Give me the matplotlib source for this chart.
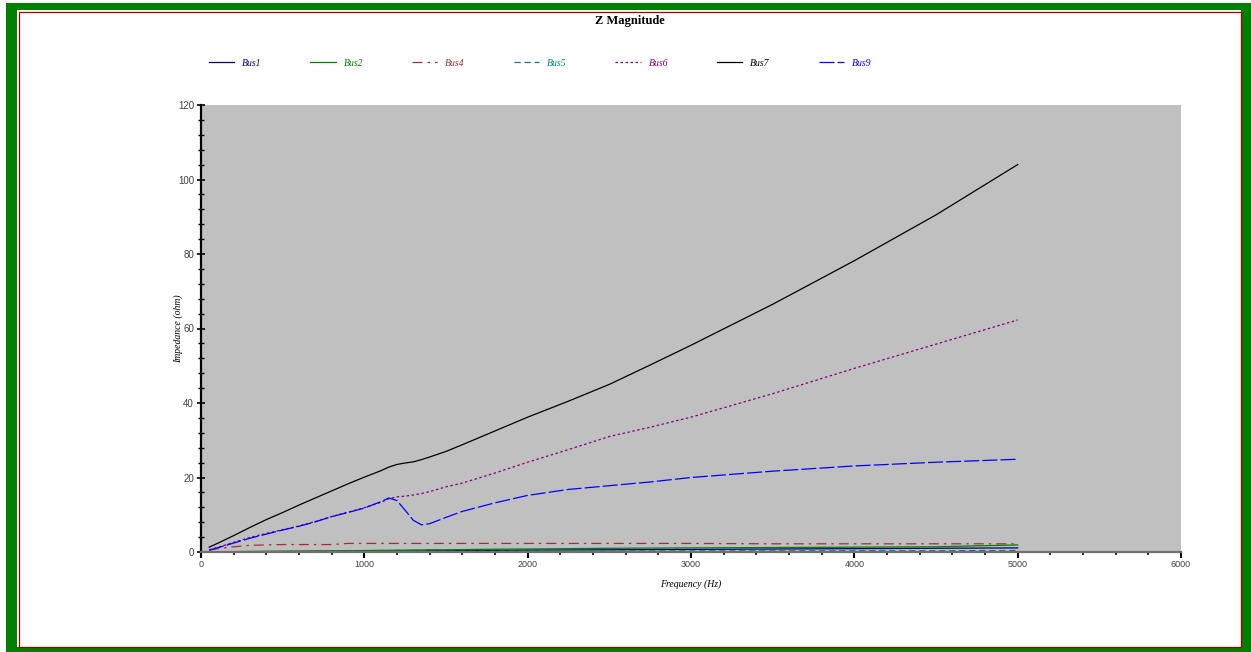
import matplotlib
matplotlib.use("Agg")
import matplotlib.pyplot as plt
from matplotlib.patches import Rectangle

# frequency points (Hz)
freq = [50, 100, 200, 300, 400, 500, 600, 700, 800, 900, 1000, 1100, 1150, 1200, 1250,
        1300, 1350, 1400, 1500, 1600, 1800, 2000, 2250, 2500, 2750, 3000, 3500, 4000, 4500, 5000]

# impedance magnitudes (ohm)
bus1 = [0.05, 0.05, 0.1, 0.1, 0.1, 0.15, 0.15, 0.15, 0.2, 0.2, 0.25, 0.25, 0.25, 0.3, 0.3,
        0.3, 0.3, 0.35, 0.35, 0.4, 0.45, 0.5, 0.55, 0.6, 0.65, 0.7, 0.8, 0.9, 1.0, 1.1]
bus2 = [0.05, 0.1, 0.1, 0.15, 0.2, 0.2, 0.25, 0.3, 0.3, 0.35, 0.4, 0.45, 0.45, 0.5, 0.5,
        0.55, 0.55, 0.6, 0.6, 0.65, 0.75, 0.8, 0.9, 1.0, 1.05, 1.1, 1.2, 1.3, 1.4, 1.9]
bus4 = [0.5, 0.9, 1.4, 1.8, 1.9, 2.0, 2.0, 2.0, 2.0, 2.3, 2.3, 2.3, 2.3, 2.3, 2.3,
        2.3, 2.3, 2.3, 2.3, 2.3, 2.3, 2.3, 2.3, 2.3, 2.3, 2.3, 2.2, 2.2, 2.2, 2.2]
bus5 = [0.05, 0.05, 0.05, 0.1, 0.1, 0.1, 0.1, 0.1, 0.15, 0.15, 0.15, 0.15, 0.15, 0.15, 0.15,
        0.2, 0.2, 0.2, 0.2, 0.2, 0.2, 0.25, 0.25, 0.25, 0.3, 0.3, 0.3, 0.35, 0.35, 0.4]
bus6 = [0.6, 1.2, 2.6, 3.9, 5.0, 6.0, 7.0, 8.2, 9.5, 10.7, 11.9, 13.3, 14.3, 14.8, 15.0,
        15.3, 15.7, 16.2, 17.5, 18.5, 21.2, 24.1, 27.5, 31.0, 33.5, 36.2, 42.5, 49.3, 55.8, 62.3]
bus7 = [1.3, 2.3, 4.4, 6.6, 8.7, 10.6, 12.6, 14.5, 16.4, 18.3, 20.1, 21.8, 22.8, 23.5, 23.9,
        24.2, 24.8, 25.5, 27.0, 28.8, 32.5, 36.2, 40.5, 45.0, 50.2, 55.5, 66.5, 78.2, 90.5, 104.0]
bus9 = [0.5, 1.1, 2.4, 3.7, 4.8, 5.9, 6.9, 8.1, 9.5, 10.6, 11.8, 13.5, 14.5, 13.8, 11.2,
        8.5, 7.3, 7.6, 9.3, 10.9, 13.2, 15.2, 16.8, 17.8, 18.8, 20.0, 21.7, 23.1, 24.1, 24.9]

labels = ['Bus1', 'Bus2', 'Bus4', 'Bus5', 'Bus6', 'Bus7', 'Bus9']
series = [bus1, bus2, bus4, bus5, bus6, bus7, bus9]
colors = ['#000080', '#008000', '#a03030', '#008080', '#800080', '#000000', '#0000ff']
styles = ['-', '-', (0, (8, 4, 2, 4)), (0, (5, 3)), (0, (2, 2)), '-', (0, (12, 2.5))]

serif = 'Liberation Serif'
sans = 'Liberation Sans'

fig = plt.figure(figsize=(12.51, 6.52), dpi=100)
ax = fig.add_axes([201 / 1251, 100 / 652, 980 / 1251, 447 / 652])
ax.set_facecolor('#c0c0c0')

handles = []
for lab, y, c, ls in zip(labels, series, colors, styles):
    ln, = ax.plot(freq, y, color=c, linestyle=ls, linewidth=0.9, label=lab)
    handles.append(ln)

ax.set_xlim(0, 6000)
ax.set_ylim(0, 120)
ax.set_xticks(range(0, 6001, 1000))
ax.set_xticks(range(0, 6001, 200), minor=True)
ax.set_yticks(range(0, 121, 20))
ax.set_yticks(range(0, 121, 4), minor=True)

for s in ['top', 'right']:
    ax.spines[s].set_visible(False)
ax.spines['left'].set_color('black')
ax.spines['left'].set_linewidth(1.6)
ax.spines['bottom'].set_color('#707070')
ax.spines['bottom'].set_linewidth(1.6)

ax.tick_params(axis='y', which='major', direction='inout', length=6, width=1.2, color='black',
               labelsize=7, labelcolor='#404040', pad=2)
ax.tick_params(axis='y', which='minor', direction='inout', length=4, width=1, color='black')
ax.tick_params(axis='x', which='major', direction='out', length=4, width=1.5, color='black',
               labelsize=6.5, labelcolor='#404040', pad=2)
ax.tick_params(axis='x', which='minor', direction='out', length=2.5, width=1.2, color='black')
for t in ax.get_xticklabels() + ax.get_yticklabels():
    t.set_fontfamily(sans)

ax.set_xlabel('Frequency (Hz)', fontfamily=serif, fontstyle='italic', fontsize=7)
ax.set_ylabel('Impedance (ohm)', fontfamily=serif, fontstyle='italic', fontsize=7)
ax.xaxis.set_label_coords(490 / 980, -27 / 447)
ax.yaxis.set_label_coords(-18 / 980, 0.5)

fig.text(630 / 1251, 1 - 21 / 652, 'Z Magnitude', ha='center', va='center',
         fontfamily=serif, fontweight='bold', fontsize=9)

leg = fig.legend(handles=handles, loc='center left', bbox_to_anchor=(200 / 1251, 1 - 63 / 652),
                 ncol=7, frameon=False, handlelength=2.6, handletextpad=0.8, columnspacing=5.05,
                 prop={'family': serif, 'style': 'italic', 'size': 7})
for txt, c in zip(leg.get_texts(), colors):
    txt.set_color(c)

# page frame: green border with thin dark red inner line
W, H = 1251, 652
green = '#008000'
def px_rect(x0, y0, x1, y1, **kw):
    return Rectangle((x0 / W, 1 - y1 / H), (x1 - x0) / W, (y1 - y0) / H,
                     transform=fig.transFigure, **kw)

fig.patches.append(px_rect(6, 3, 17, 652, facecolor=green, edgecolor='none'))
fig.patches.append(px_rect(6, 3, 1251, 10, facecolor=green, edgecolor='none'))
fig.patches.append(px_rect(1241, 3, 1251, 652, facecolor=green, edgecolor='none'))
fig.patches.append(px_rect(6, 647, 1251, 652, facecolor=green, edgecolor='none'))
fig.patches.append(px_rect(18.5, 11.5, 1240.5, 646.5, facecolor='none', edgecolor='#a00000', linewidth=0.9))

fig.savefig('out.png', dpi=100)
